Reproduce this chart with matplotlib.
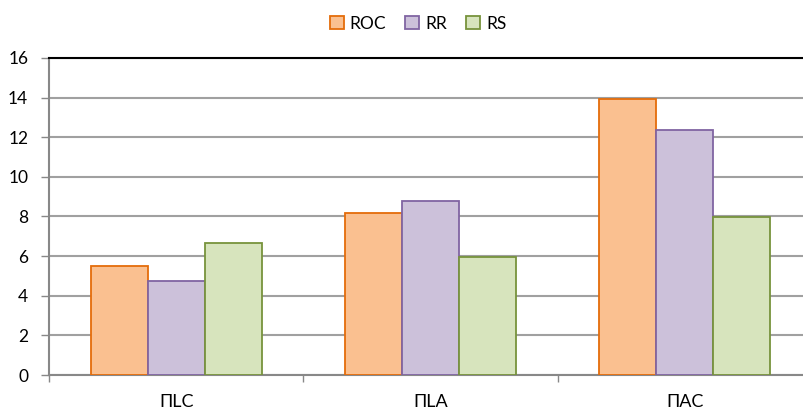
import matplotlib
matplotlib.use("Agg")
import matplotlib.pyplot as plt
import numpy as np

categories = ["ПLC", "ПLA", "ПAC"]
series_names = ["ROC", "RR", "RS"]
roc = [5.5, 8.18, 13.93]
rr = [4.75, 8.78, 12.37]
rs = [6.65, 5.98, 7.97]
yticks = [0, 2, 4, 6, 8, 10, 12, 14, 16]

fills = ["#FAC090", "#CCC1DA", "#D7E4BD"]
edges = ["#E46C0A", "#8064A2", "#77933C"]

plt.rcParams['font.family'] = ['Lato', 'DejaVu Sans']

fig = plt.figure(figsize=(8.04, 4.17), dpi=100)
ax = fig.add_axes([49/804, 1-375/417, 763/804, 317/417])

x = np.arange(len(categories))
w = 0.224
for i, (vals, name) in enumerate(zip([roc, rr, rs], series_names)):
    ax.bar(x + (i-1)*w, vals, w, color=fills[i], edgecolor=edges[i], linewidth=1.3,
           label=name, zorder=3)

ax.set_xlim(-0.5, 2.5)
ax.set_ylim(0, 16)
ax.set_yticks(yticks)
ax.set_yticklabels([str(t) for t in yticks], fontsize=12.5)
ax.yaxis.grid(True, color="#A0A0A0", linewidth=1.5, zorder=0)
ax.set_axisbelow(True)
ax.set_xticks([-0.5, 0.5, 1.5, 2.5])
ax.set_xticklabels([])
ax.set_xticks(x, minor=True)
ax.set_xticklabels(categories, minor=True, fontsize=13)
ax.tick_params(axis='x', which='minor', length=0, pad=14)
ax.tick_params(axis='x', which='major', length=5, color="#888888", width=1)
ax.tick_params(axis='y', length=6, color="#888888", width=1, pad=9)

ax.spines['right'].set_visible(False)
ax.spines['top'].set_color('black')
ax.spines['top'].set_linewidth(1.5)
ax.spines['left'].set_color('#888888')
ax.spines['left'].set_linewidth(1.5)
ax.spines['bottom'].set_color('#888888')
ax.spines['bottom'].set_linewidth(1.5)

fig.legend(loc='upper center', bbox_to_anchor=(0.52, 1.0), ncol=3, frameon=False,
           fontsize=12.5, handlelength=0.8, handleheight=0.8, handletextpad=0.35,
           columnspacing=1.1)

fig.savefig("out.png", dpi=100)
